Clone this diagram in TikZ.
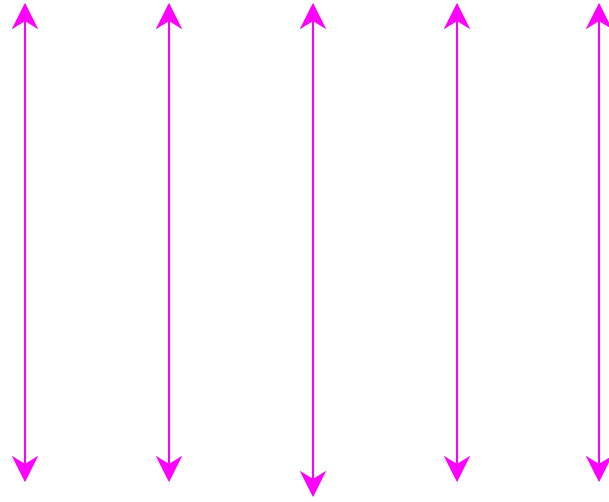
\documentclass[tikz,border=0pt]{standalone}
\usetikzlibrary{arrows.meta}
\definecolor{mag}{RGB}{255,0,255}
\tikzset{dbl/.style={draw=mag, line width=2pt, {Stealth[length=26pt,width=26pt,inset=8pt]}-{Stealth[length=26pt,width=26pt,inset=8pt]}}}
\begin{document}
\begin{tikzpicture}[x=1pt,y=1pt]
\useasboundingbox (0,0) rectangle (609,501);
\foreach \n/\x/\b in {1/25/19, 2/169/19, 3/313/4, 4/457/19, 5/599/19}{
  \coordinate (t\n) at (\x,498);
  \coordinate (b\n) at (\x,\b);
  \draw[dbl] (b\n) -- (t\n);
}
\end{tikzpicture}
\end{document}
